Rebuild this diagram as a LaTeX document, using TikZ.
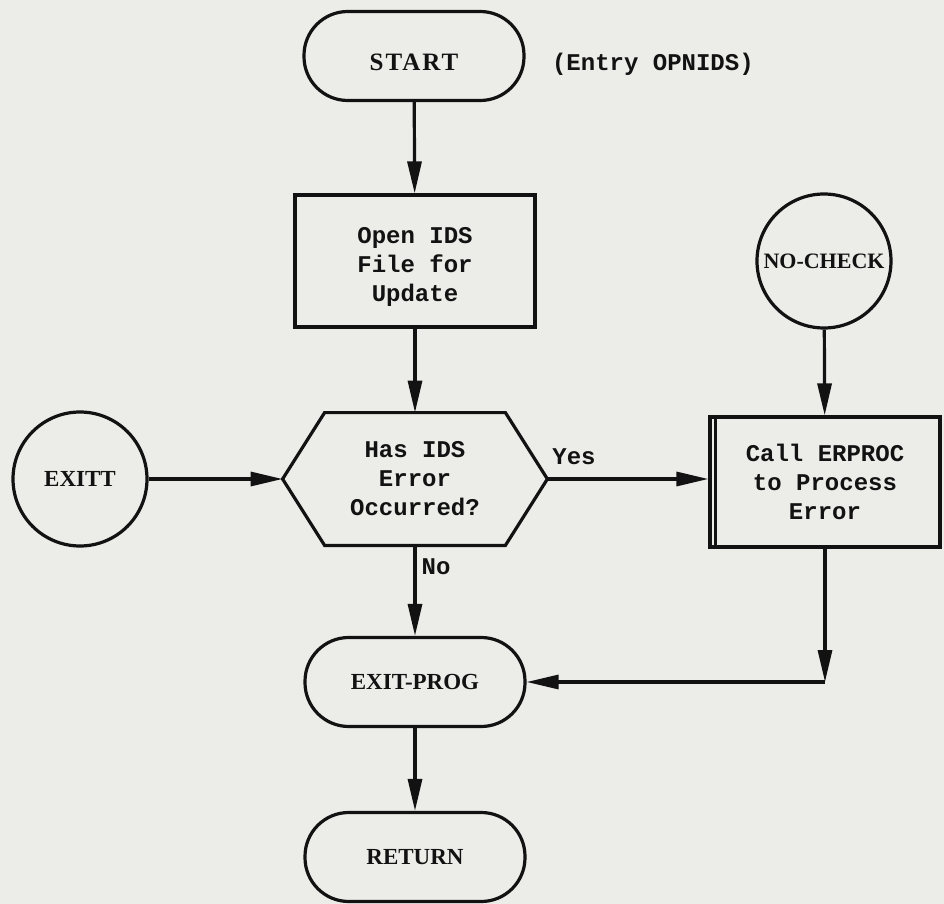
\documentclass[tikz,border=0pt]{standalone}
\usepackage{fontspec}
\setmonofont{Liberation Mono}
\newfontfamily\lblfont{Liberation Serif}
\newfontfamily\startfont{Liberation Serif}[LetterSpace=8]
\usetikzlibrary{arrows.meta,calc}
\definecolor{paper}{RGB}{236,236,233}
\definecolor{ink}{RGB}{18,18,18}
\tikzset{
  x=0.5pt, y=-0.5pt,
  every node/.style={text=ink},
  line/.style={draw=ink, line width=1.6pt},
  arr/.style={line, -{Triangle[length=16pt,width=7pt]}},
  term/.style={line, rectangle, rounded corners=21.9pt, minimum width=110pt, minimum height=44.5pt, inner sep=0pt},
  procbox/.style={line, rectangle, minimum width=120pt, minimum height=66pt, align=center, inner sep=0pt},
  connector/.style={line, circle, minimum size=67pt, inner sep=0pt},
  hexbox/.style={rectangle, minimum width=132pt, minimum height=66pt, align=center, inner sep=0pt},
  plain/.style={inner sep=0pt, align=center},
  monotxt/.style={font=\ttfamily\bfseries\fontsize{12pt}{14.5pt}\selectfont},
  lbltxt/.style={font=\lblfont\bfseries\fontsize{11.5pt}{13pt}\selectfont},
}
\begin{document}
\begin{tikzpicture}
\fill[paper] (0,0) rectangle (944,904);
\useasboundingbox (0,0) rectangle (944,904);

% nodes
\node[term] (start) at (414,56) {};
\node[plain, font=\startfont\bfseries\fontsize{12.5pt}{14pt}\selectfont] (starttxt) at ([yshift=-3pt]start.center) {START};
\node[monotxt, anchor=west] (entry) at (545,64) {(Entry OPNIDS)};
\node[procbox] (open) at (415,261) {};
\node[plain, monotxt] (opentxt) at ([yshift=-3pt]open.center) {Open IDS\\File for\\Update};
\node[hexbox, monotxt] (hex) at (415,479) {Has IDS\\Error\\Occurred?};
\draw[line, line join=miter] (hex.west) -- ([xshift=21pt]hex.north west) -- ([xshift=-21pt]hex.north east)
  -- (hex.east) -- ([xshift=-21pt]hex.south east) -- ([xshift=21pt]hex.south west) -- cycle;
\node[connector, lbltxt] (exitt) at (80,479) {EXITT};
\node[connector, lbltxt, font=\lblfont\bfseries\fontsize{11pt}{13pt}\selectfont] (nocheck) at (824,261) {NO-CHECK};
\node[procbox, monotxt, minimum width=115pt, minimum height=65pt] (call) at (825,482) {Call ERPROC\\to Process\\Error};
\draw[line] ([xshift=3.6pt]call.north west) -- ([xshift=3.6pt]call.south west);
\node[term, lbltxt] (exitprog) at (415,682) {EXIT-PROG};
\node[term, lbltxt] (ret) at (415,857) {RETURN};

% labels
\node[monotxt] (yes) at (574,457) {Yes};
\node[monotxt] (no) at (436,567) {No};

% connectors
\coordinate (corner) at (call.south |- exitprog.east);
\draw[arr] (start) -- (open);
\draw[arr] (open) -- (hex.north);
\draw[arr] (exitt) -- (hex.west);
\draw[arr] (hex.east) -- (hex.east -| call.west);
\draw[arr] (nocheck) -- (call);
\draw[arr] (hex.south) -- (exitprog);
\draw[arr] (call.south) -- (corner);
\draw[arr] (corner) -- (exitprog.east);
\draw[arr] (exitprog) -- (ret);
\end{tikzpicture}
\end{document}
